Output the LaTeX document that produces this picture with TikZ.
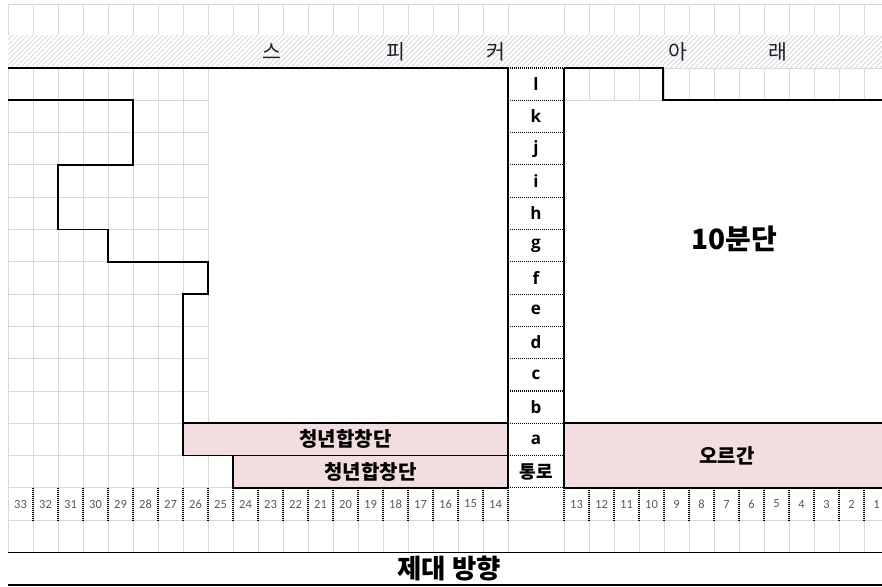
\documentclass[tikz,border=0pt]{standalone}
\usepackage{fontspec}
\newfontfamily\kr{Noto Sans CJK KR}
\newfontfamily\lat{Open Sans}
\newfontfamily\numfont{Carlito}
\definecolor{gridgray}{RGB}{217,217,217}
\definecolor{hatchgray}{RGB}{208,208,208}
\definecolor{pinkfill}{RGB}{242,222,222}
\definecolor{numgray}{RGB}{85,85,105}
\definecolor{spktext}{RGB}{30,30,50}
\tikzset{
  gridline/.style={draw=gridgray, line width=0.9pt},
  borderline/.style={draw=black, line width=1.7pt},
  dotline/.style={draw=black, line width=1.1pt, dash pattern=on 1pt off 1pt},
  lbl/.style={font=\lat\bfseries\fontsize{17}{17}\selectfont, inner sep=0pt},
  krlbl/.style={font=\kr\bfseries\fontsize{18}{18}\selectfont, inner sep=0pt},
  pinkbox/.style={draw=black, line width=1.7pt, fill=pinkfill, inner sep=0pt,
     font=\kr\bfseries\fontsize{20}{20}\selectfont},
  numlbl/.style={font=\numfont\fontsize{12.5}{12.5}\selectfont, text=numgray, inner sep=0pt},
  spk/.style={font=\kr\fontsize{20.5}{20.5}\selectfont, text=spktext, inner sep=0pt},
}
\begin{document}
\begin{tikzpicture}[x=1pt,y=-1pt]
\useasboundingbox (0,0) rectangle (882,586);
\clip (0,0) rectangle (882,586);
% grid
\foreach \i in {0,...,20} \draw[gridline] ({8+25*\i},4) -- ({8+25*\i},552.5);
\foreach \i in {0,...,12} \draw[gridline] ({564+25*\i},4) -- ({564+25*\i},552.5);
\draw[gridline] (8,4) -- (882,4);
\draw[gridline] (8,35) -- (882,35);
\foreach \k in {0,...,15} \draw[gridline] (8,{68+32.3*\k}) -- (882,{68+32.3*\k});
% hatched speaker band
\fill[white] (8,35.5) rectangle (882,68);
\begin{scope}
  \clip (8,35.5) rectangle (882,68);
  \foreach \i in {-40,-35,...,900} \draw[hatchgray, line width=0.7pt] (\i,68) -- ({\i+33},35);
\end{scope}
% white regions
\fill[white] (208.5,68) rectangle (508,423.3);
\fill[white] (508,68) rectangle (564,487.9);
\fill[white] (564,100.8) rectangle (882,423.3);
\fill[white] (8,553) rectangle (882,585);
% center column
\foreach \k in {0,...,13} \draw[dotline] (508,{68+32.3*\k}) -- (564,{68+32.3*\k});
\foreach \i in {1,...,20} \draw[dotline] ({8+25*\i},487.9) -- ({8+25*\i},520.2);
\foreach \i in {0,...,12} \draw[dotline] ({564+25*\i},487.9) -- ({564+25*\i},520.2);
% borders
\draw[borderline] (8,68) -- (508,68);
\draw[borderline] (564,68) -- (663,68) -- (663,100.3) -- (882,100.3);
\draw[borderline] (508,68) -- (508,487.9);
\draw[borderline] (564,68) -- (564,487.9);
\draw[borderline] (8,100.3) -- (133,100.3) -- (133,164.9) -- (58,164.9) -- (58,229.5)
  -- (108,229.5) -- (108,261.8) -- (208,261.8) -- (208,294.1) -- (183,294.1) -- (183,423.3);
\draw[borderline] (8,552.5) -- (882,552.5);
\draw[borderline] (8,585) -- (882,585);
% pink boxes
\node[pinkbox, minimum width=325pt, minimum height=32.3pt] (choir1) at (345.5,439.45) {청년합창단};
\node[pinkbox, minimum width=275pt, minimum height=32.3pt] (choir2) at (370.5,471.75) {청년합창단};
\node[pinkbox, minimum width=326pt, minimum height=64.6pt] (organ) at (727,455.6) {오르간};
% center column labels
\foreach \t [count=\i] in {l,k,j,i,h,g,f,e,d,c,b,a}
  \node[lbl] (row\t) at (536,{68+32.3*(\i-0.5)}) {\t};
\node[krlbl] (aisle) at (536,471.75) {통로};
% numbers
\foreach \i in {0,...,19} {
  \pgfmathtruncatemacro{\n}{33-\i}
  \node[numlbl] (numL\i) at ({20.5+25*\i},504) {\n};
}
\foreach \i in {0,...,12} {
  \pgfmathtruncatemacro{\n}{13-\i}
  \node[numlbl] (numR\i) at ({576.5+25*\i},504) {\n};
}
% speaker band text
\node[spk] (s1) at (272,52) {스};
\node[spk] (s2) at (396,52) {피};
\node[spk] (s3) at (496,52) {커};
\node[spk] (s4) at (678,52) {아};
\node[spk] (s5) at (778,52) {래};
% block label
\node[font=\kr\bfseries\fontsize{28}{28}\selectfont, inner sep=0pt] (block10) at (734,239) {10분단};
% direction
\node[font=\kr\bfseries\fontsize{26.5}{26.5}\selectfont, inner sep=0pt] (dir) at (449,568.5) {제대 방향};
\end{tikzpicture}
\end{document}
